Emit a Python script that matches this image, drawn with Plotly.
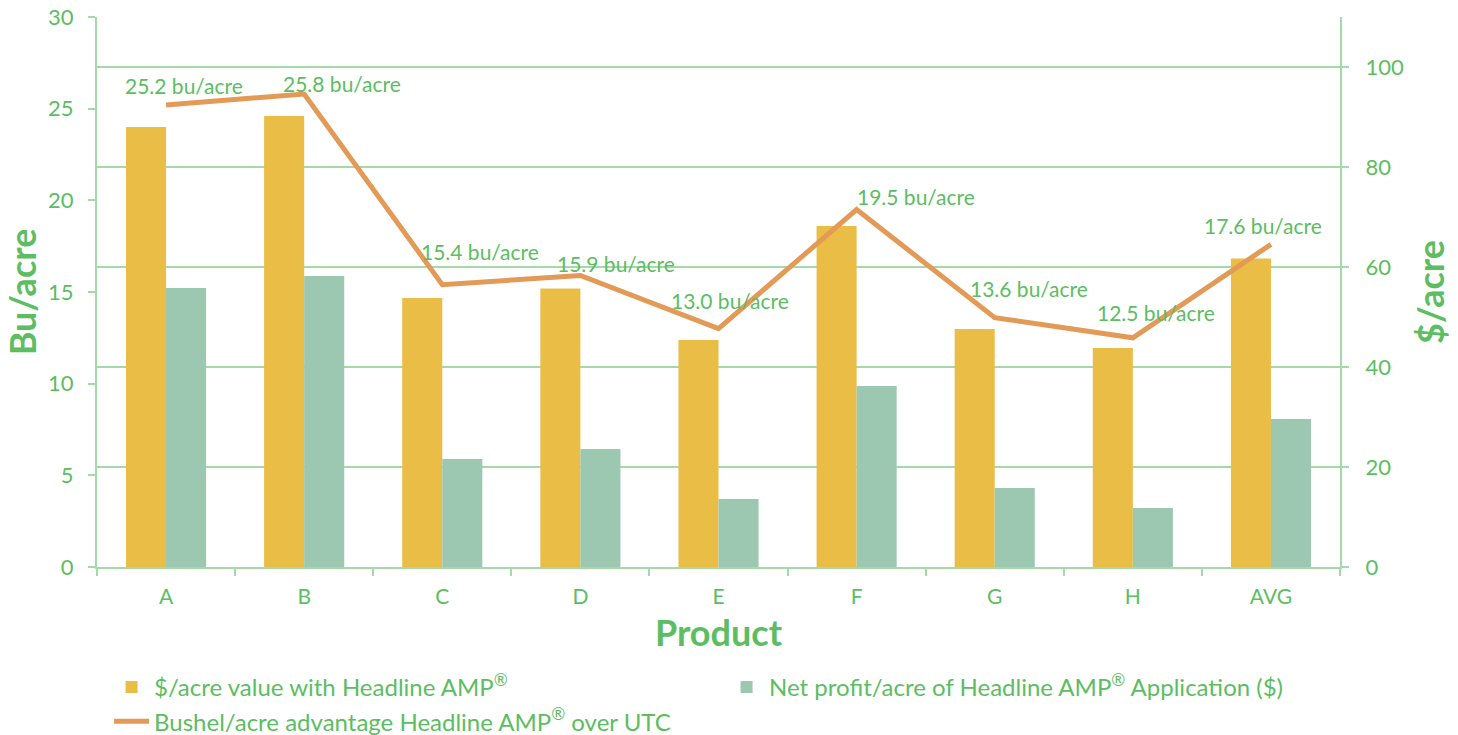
import plotly.graph_objects as go

categories = ["A", "B", "C", "D", "E", "F", "G", "H", "AVG"]
value_per_acre = [88.0, 90.2, 53.8, 55.7, 45.4, 68.2, 47.6, 43.8, 61.7]
net_profit = [55.8, 58.2, 21.6, 23.6, 13.6, 36.2, 15.8, 11.8, 29.6]
bu_advantage = [25.2, 25.8, 15.4, 15.9, 13.0, 19.5, 13.6, 12.5, 17.6]
label_texts = [f"{v:.1f} bu/acre" for v in bu_advantage]

# label offsets in pixels (dx, dy) relative to the line points
label_dx = [18, 38, 38, 36, 11, 59, 34, 23, -8]
label_dy = [20, 11, 33, 12, 28, 13, 29, 25, 19]

TXT = "#5CBD62"
AX = "#A6D9A8"
FONT = "Lato"

fig = go.Figure()
fig.add_trace(go.Bar(
    x=categories, y=value_per_acre, yaxis="y", name="$/acre value with Headline AMP<sup>®</sup>",
    marker=dict(color="#E9BD46", line=dict(width=0)),
))
fig.add_trace(go.Bar(
    x=categories, y=net_profit, yaxis="y", name="Net profit/acre of Headline AMP<sup>®</sup> Application ($)",
    marker=dict(color="#9CC7B0", line=dict(width=0)),
))
fig.add_trace(go.Scatter(
    x=categories, y=bu_advantage, yaxis="y2", mode="lines",
    name="Bushel/acre advantage Headline AMP<sup>®</sup> over UTC",
    line=dict(color="#E39A56", width=5),
))

for c, v, t, dx, dy in zip(categories, bu_advantage, label_texts, label_dx, label_dy):
    fig.add_annotation(x=c, y=v, xref="x", yref="y2", text=t, showarrow=False,
                       xshift=dx, yshift=dy, font=dict(family=FONT, size=21, color=TXT))

fig.update_layout(
    width=1458, height=735,
    margin=dict(l=97, r=118, t=17, b=168, autoexpand=False),
    paper_bgcolor="white", plot_bgcolor="white",
    barmode="group", bargap=0.42, bargroupgap=0,
    font=dict(family=FONT, color=TXT),
    xaxis=dict(
        showline=True, linecolor=AX, linewidth=2,
        ticks="outside", tickson="boundaries", ticklen=7, tickcolor=AX, tickwidth=2,
        tickfont=dict(size=21, color=TXT), ticklabelstandoff=10,
        title=dict(text="<b>Product</b>", font=dict(size=36, color=TXT), standoff=14),
    ),
    yaxis=dict(
        side="right", range=[0, 110], tickvals=[0, 20, 40, 60, 80, 100],
        showgrid=True, gridcolor=AX, gridwidth=2, zeroline=False,
        showline=True, linecolor=AX, linewidth=2,
        ticks="outside", ticklen=7, tickcolor=AX, tickwidth=2,
        tickfont=dict(size=22, color=TXT), ticklabelstandoff=12,
        title=dict(text="<b>$/acre</b>", font=dict(size=36, color=TXT), standoff=16),
    ),
    yaxis2=dict(
        side="left", overlaying="y", range=[0, 30], tickvals=[0, 5, 10, 15, 20, 25, 30],
        showgrid=False, zeroline=False,
        showline=True, linecolor=AX, linewidth=2,
        ticks="outside", ticklen=7, tickcolor=AX, tickwidth=2,
        tickfont=dict(size=22, color=TXT), ticklabelstandoff=10,
        title=dict(text="<b>Bu/acre</b>", font=dict(size=36, color=TXT), standoff=12),
    ),
    showlegend=True,
    legend=dict(
        orientation="h", x=0.0097, xanchor="left", y=-0.178, yanchor="top",
        entrywidth=565, entrywidthmode="pixels", itemwidth=35,
        font=dict(family=FONT, size=24, color=TXT), traceorder="normal",
        tracegroupgap=0,
    ),
)

fig.write_html("out.html")
